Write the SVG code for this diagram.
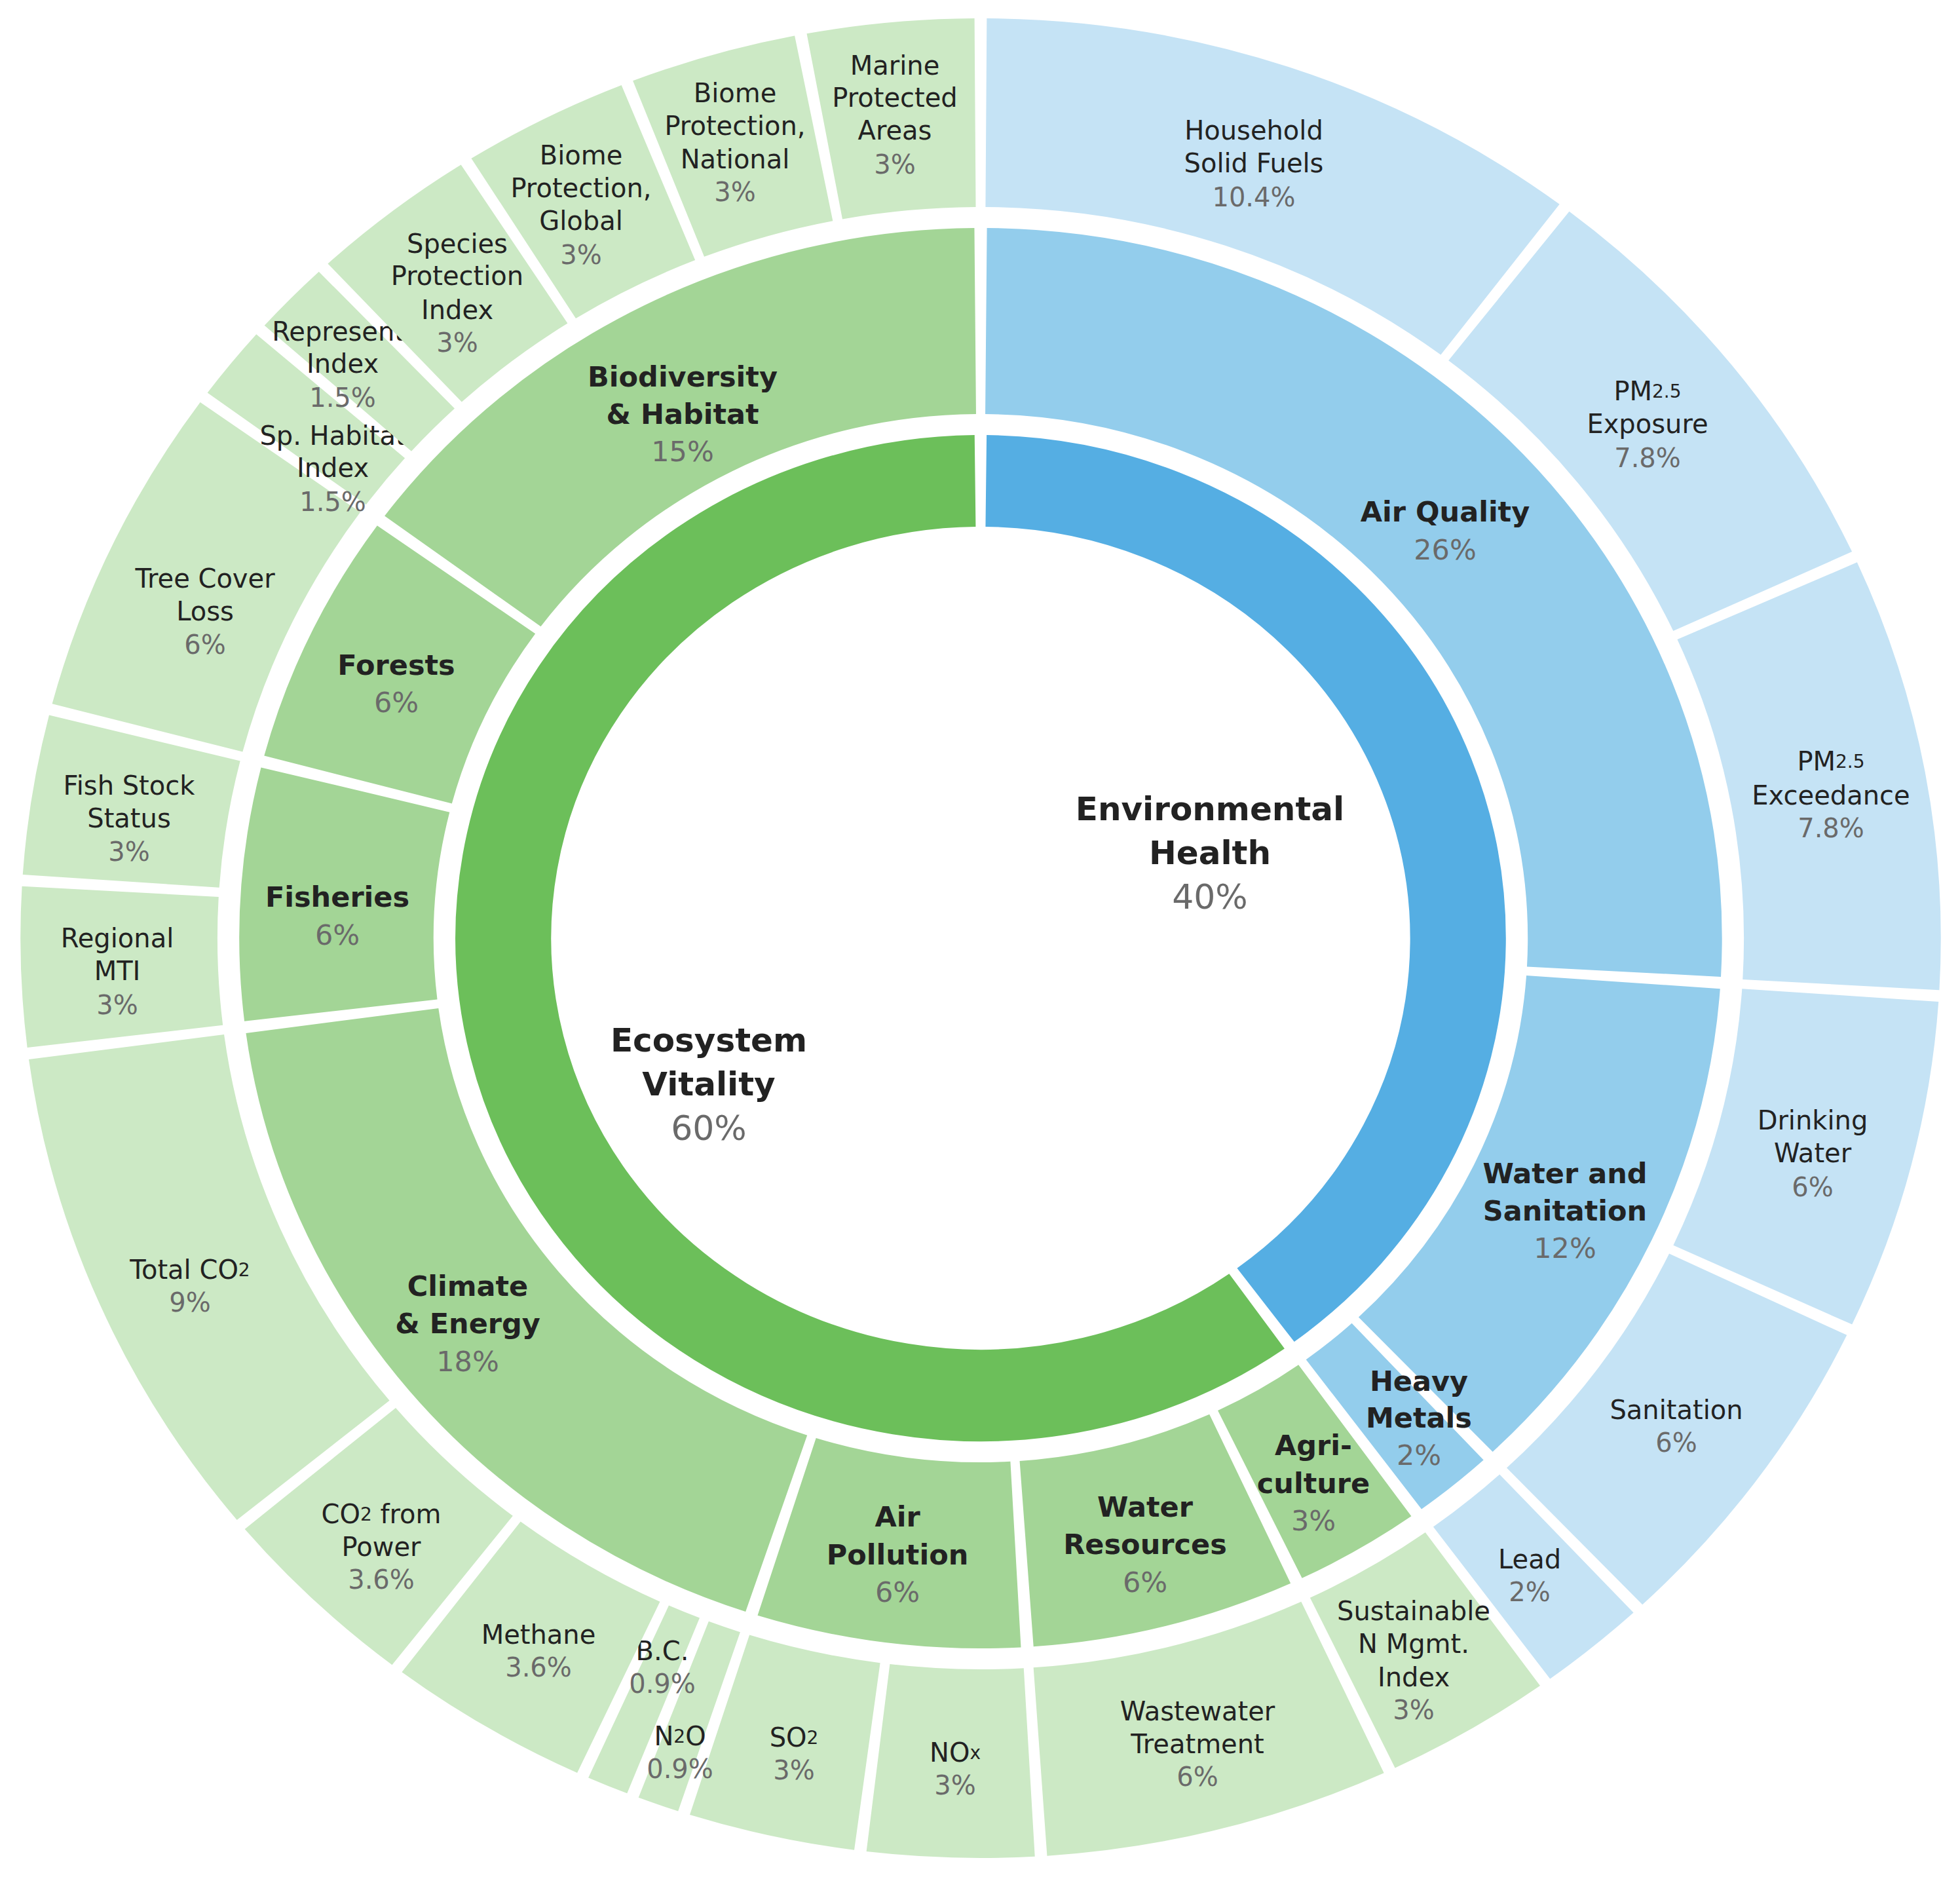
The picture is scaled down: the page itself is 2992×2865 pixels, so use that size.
<svg xmlns="http://www.w3.org/2000/svg" width="2992" height="2865" viewBox="0 0 2992 2865">
<style>
circle{fill:none}
.r1{stroke-width:140}
.r2{stroke-width:284}
.r3{stroke-width:288}
.b1{stroke:#55aee3}.g1{stroke:#6cbf5a}
.b2{stroke:#93cdec}.g2{stroke:#a3d596}
.b3{stroke:#c5e3f5}.g3{stroke:#cce9c5}
text{font-family:"DejaVu Sans","Liberation Sans",sans-serif;text-anchor:middle;dominant-baseline:central;fill:#222}
.l{font-size:40px}
.c{font-size:43px;font-weight:bold}
.m{font-size:50px;font-weight:bold}
.p{fill:#6a6a6a;font-weight:normal}
.m .p{font-size:52px}
.s{font-size:28px}
</style>
<rect width="2992" height="2865" fill="#fff"/>
<g id="ring1">
<g id="env-health"><circle class="r1 b1" r="698" pathLength="360" stroke-dasharray="142.69 400" transform="translate(1497,1432) scale(1.044,1) rotate(-89.35)"/>
<text class="m"><tspan x="1847" y="1235">Environmental</tspan><tspan x="1847" y="1302">Health</tspan><tspan class="p" x="1847" y="1369">40%</tspan></text></g>
<g id="eco-vitality"><circle class="r1 g1" r="698" pathLength="360" stroke-dasharray="214.69 400" transform="translate(1497,1432) scale(1.044,1) rotate(54.65)"/>
<text class="m"><tspan x="1082" y="1588">Ecosystem</tspan><tspan x="1082" y="1655">Vitality</tspan><tspan class="p" x="1082" y="1722">60%</tspan></text></g>
</g>
<g id="ring2">
<g id="air-quality"><circle class="r2 b2" r="942" pathLength="360" stroke-dasharray="92.63 400" transform="translate(1497,1432) scale(1.044,1) rotate(-89.515)"/>
<text class="c"><tspan x="2206" y="781">Air Quality</tspan><tspan class="p" x="2206" y="839">26%</tspan></text></g>
<g id="water-sanitation"><circle class="r2 b2" r="942" pathLength="360" stroke-dasharray="42.23 400" transform="translate(1497,1432) scale(1.044,1) rotate(4.085)"/>
<text class="c"><tspan x="2389" y="1791">Water and</tspan><tspan x="2389" y="1848">Sanitation</tspan><tspan class="p" x="2389" y="1905">12%</tspan></text></g>
<g id="heavy-metals"><circle class="r2 b2" r="942" pathLength="360" stroke-dasharray="6.23 400" transform="translate(1497,1432) scale(1.044,1) rotate(47.285)"/>
<text class="c"><tspan x="2166" y="2108">Heavy</tspan><tspan x="2166" y="2164">Metals</tspan><tspan class="p" x="2166" y="2221">2%</tspan></text></g>
<g id="agriculture"><circle class="r2 g2" r="942" pathLength="360" stroke-dasharray="9.83 400" transform="translate(1497,1432) scale(1.044,1) rotate(54.485)"/>
<text class="c"><tspan x="2005" y="2206">Agri-</tspan><tspan x="2005" y="2264">culture</tspan><tspan class="p" x="2005" y="2321">3%</tspan></text></g>
<g id="water-resources"><circle class="r2 g2" r="942" pathLength="360" stroke-dasharray="20.63 400" transform="translate(1497,1432) scale(1.044,1) rotate(65.285)"/>
<text class="c"><tspan x="1748" y="2300">Water</tspan><tspan x="1748" y="2357">Resources</tspan><tspan class="p" x="1748" y="2415">6%</tspan></text></g>
<g id="air-pollution"><circle class="r2 g2" r="942" pathLength="360" stroke-dasharray="20.63 400" transform="translate(1497,1432) scale(1.044,1) rotate(86.885)"/>
<text class="c"><tspan x="1370" y="2315">Air</tspan><tspan x="1370" y="2373">Pollution</tspan><tspan class="p" x="1370" y="2430">6%</tspan></text></g>
<g id="climate-energy"><circle class="r2 g2" r="942" pathLength="360" stroke-dasharray="63.83 400" transform="translate(1497,1432) scale(1.044,1) rotate(108.485)"/>
<text class="c"><tspan x="714" y="1963">Climate</tspan><tspan x="714" y="2020">&amp; Energy</tspan><tspan class="p" x="714" y="2078">18%</tspan></text></g>
<g id="fisheries"><circle class="r2 g2" r="942" pathLength="360" stroke-dasharray="20.63 400" transform="translate(1497,1432) scale(1.044,1) rotate(173.285)"/>
<text class="c"><tspan x="515" y="1369">Fisheries</tspan><tspan class="p" x="515" y="1427">6%</tspan></text></g>
<g id="forests"><circle class="r2 g2" r="942" pathLength="360" stroke-dasharray="20.63 400" transform="translate(1497,1432) scale(1.044,1) rotate(194.885)"/>
<text class="c"><tspan x="605" y="1015">Forests</tspan><tspan class="p" x="605" y="1072">6%</tspan></text></g>
<g id="biodiversity"><circle class="r2 g2" r="942" pathLength="360" stroke-dasharray="53.03 400" transform="translate(1497,1432) scale(1.044,1) rotate(216.485)"/>
<text class="c"><tspan x="1042" y="575">Biodiversity</tspan><tspan x="1042" y="632">&amp; Habitat</tspan><tspan class="p" x="1042" y="689">15%</tspan></text></g>
</g>
<g id="ring3">
<g id="household"><circle class="r3 b3" r="1260" pathLength="360" stroke-dasharray="36.71 400" transform="translate(1497,1432) scale(1.044,1) rotate(-89.635)"/>
<text class="l"><tspan x="1914" y="199">Household</tspan><tspan x="1914" y="249">Solid Fuels</tspan><tspan class="p" x="1914" y="301">10.4%</tspan></text></g>
<g id="pm-exposure"><circle class="r3 b3" r="1260" pathLength="360" stroke-dasharray="27.35 400" transform="translate(1497,1432) scale(1.044,1) rotate(-52.195)"/>
<text class="l"><tspan x="2515" y="597">PM<tspan class="s">2.5</tspan></tspan><tspan x="2515" y="647">Exposure</tspan><tspan class="p" x="2515" y="699">7.8%</tspan></text></g>
<g id="pm-exceedance"><circle class="r3 b3" r="1260" pathLength="360" stroke-dasharray="27.35 400" transform="translate(1497,1432) scale(1.044,1) rotate(-24.115)"/>
<text class="l"><tspan x="2795" y="1162">PM<tspan class="s">2.5</tspan></tspan><tspan x="2795" y="1214">Exceedance</tspan><tspan class="p" x="2795" y="1264">7.8%</tspan></text></g>
<g id="drinking-water"><circle class="r3 b3" r="1260" pathLength="360" stroke-dasharray="20.87 400" transform="translate(1497,1432) scale(1.044,1) rotate(3.965)"/>
<text class="l"><tspan x="2767" y="1710">Drinking</tspan><tspan x="2767" y="1760">Water</tspan><tspan class="p" x="2767" y="1812">6%</tspan></text></g>
<g id="sanitation"><circle class="r3 b3" r="1260" pathLength="360" stroke-dasharray="20.87 400" transform="translate(1497,1432) scale(1.044,1) rotate(25.565)"/>
<text class="l"><tspan x="2559" y="2152">Sanitation</tspan><tspan class="p" x="2559" y="2202">6%</tspan></text></g>
<g id="lead"><circle class="r3 b3" r="1260" pathLength="360" stroke-dasharray="6.47 400" transform="translate(1497,1432) scale(1.044,1) rotate(47.165)"/>
<text class="l"><tspan x="2335" y="2380">Lead</tspan><tspan class="p" x="2335" y="2430">2%</tspan></text></g>
<g id="sustainable-n"><circle class="r3 g3" r="1260" pathLength="360" stroke-dasharray="10.07 400" transform="translate(1497,1432) scale(1.044,1) rotate(54.365)"/>
<text class="l"><tspan x="2158" y="2459">Sustainable</tspan><tspan x="2158" y="2509">N Mgmt.</tspan><tspan x="2158" y="2560">Index</tspan><tspan class="p" x="2158" y="2610">3%</tspan></text></g>
<g id="wastewater"><circle class="r3 g3" r="1260" pathLength="360" stroke-dasharray="20.87 400" transform="translate(1497,1432) scale(1.044,1) rotate(65.165)"/>
<text class="l"><tspan x="1828" y="2612">Wastewater</tspan><tspan x="1828" y="2662">Treatment</tspan><tspan class="p" x="1828" y="2712">6%</tspan></text></g>
<g id="nox"><circle class="r3 g3" r="1260" pathLength="360" stroke-dasharray="10.07 400" transform="translate(1497,1432) scale(1.044,1) rotate(86.765)"/>
<text class="l"><tspan x="1458" y="2675">NO<tspan class="s">x</tspan></tspan><tspan class="p" x="1458" y="2725">3%</tspan></text></g>
<g id="so2"><circle class="r3 g3" r="1260" pathLength="360" stroke-dasharray="10.07 400" transform="translate(1497,1432) scale(1.044,1) rotate(97.565)"/>
<text class="l"><tspan x="1212" y="2652">SO<tspan class="s">2</tspan></tspan><tspan class="p" x="1212" y="2702">3%</tspan></text></g>
<g id="n2o"><circle class="r3 g3" r="1260" pathLength="360" stroke-dasharray="2.51 400" transform="translate(1497,1432) scale(1.044,1) rotate(108.365)"/>
<text class="l"><tspan x="1038" y="2650">N<tspan class="s">2</tspan>O</tspan><tspan class="p" x="1038" y="2700">0.9%</tspan></text></g>
<g id="bc"><circle class="r3 g3" r="1260" pathLength="360" stroke-dasharray="2.51 400" transform="translate(1497,1432) scale(1.044,1) rotate(111.605)"/>
<text class="l"><tspan x="1011" y="2520">B.C.</tspan><tspan class="p" x="1011" y="2570">0.9%</tspan></text></g>
<g id="methane"><circle class="r3 g3" r="1260" pathLength="360" stroke-dasharray="12.23 400" transform="translate(1497,1432) scale(1.044,1) rotate(114.845)"/>
<text class="l"><tspan x="822" y="2495">Methane</tspan><tspan class="p" x="822" y="2545">3.6%</tspan></text></g>
<g id="co2-power"><circle class="r3 g3" r="1260" pathLength="360" stroke-dasharray="12.23 400" transform="translate(1497,1432) scale(1.044,1) rotate(127.805)"/>
<text class="l"><tspan x="582" y="2311">CO<tspan class="s">2</tspan> from</tspan><tspan x="582" y="2361">Power</tspan><tspan class="p" x="582" y="2411">3.6%</tspan></text></g>
<g id="total-co2"><circle class="r3 g3" r="1260" pathLength="360" stroke-dasharray="31.67 400" transform="translate(1497,1432) scale(1.044,1) rotate(140.765)"/>
<text class="l"><tspan x="290" y="1938">Total CO<tspan class="s">2</tspan></tspan><tspan class="p" x="290" y="1988">9%</tspan></text></g>
<g id="regional-mti"><circle class="r3 g3" r="1260" pathLength="360" stroke-dasharray="10.07 400" transform="translate(1497,1432) scale(1.044,1) rotate(173.165)"/>
<text class="l"><tspan x="179" y="1432">Regional</tspan><tspan x="179" y="1482">MTI</tspan><tspan class="p" x="179" y="1534">3%</tspan></text></g>
<g id="fish-stock"><circle class="r3 g3" r="1260" pathLength="360" stroke-dasharray="10.07 400" transform="translate(1497,1432) scale(1.044,1) rotate(183.965)"/>
<text class="l"><tspan x="197" y="1199">Fish Stock</tspan><tspan x="197" y="1249">Status</tspan><tspan class="p" x="197" y="1300">3%</tspan></text></g>
<g id="tree-cover"><circle class="r3 g3" r="1260" pathLength="360" stroke-dasharray="20.87 400" transform="translate(1497,1432) scale(1.044,1) rotate(194.765)"/>
<text class="l"><tspan x="313" y="883">Tree Cover</tspan><tspan x="313" y="933">Loss</tspan><tspan class="p" x="313" y="984">6%</tspan></text></g>
<g id="sp-habitat"><circle class="r3 g3" r="1260" pathLength="360" stroke-dasharray="4.67 400" transform="translate(1497,1432) scale(1.044,1) rotate(216.365)"/>
<text class="l"><tspan x="508" y="665">Sp. Habitat</tspan><tspan x="508" y="714">Index</tspan><tspan class="p" x="508" y="766">1.5%</tspan></text></g>
<g id="represent"><circle class="r3 g3" r="1260" pathLength="360" stroke-dasharray="4.67 400" transform="translate(1497,1432) scale(1.044,1) rotate(221.765)"/>
<text class="l"><tspan x="523" y="506">Represent.</tspan><tspan x="523" y="555">Index</tspan><tspan class="p" x="523" y="607">1.5%</tspan></text></g>
<g id="species-protection"><circle class="r3 g3" r="1260" pathLength="360" stroke-dasharray="10.07 400" transform="translate(1497,1432) scale(1.044,1) rotate(227.165)"/>
<text class="l"><tspan x="698" y="372">Species</tspan><tspan x="698" y="421">Protection</tspan><tspan x="698" y="473">Index</tspan><tspan class="p" x="698" y="523">3%</tspan></text></g>
<g id="biome-global"><circle class="r3 g3" r="1260" pathLength="360" stroke-dasharray="10.07 400" transform="translate(1497,1432) scale(1.044,1) rotate(237.965)"/>
<text class="l"><tspan x="887" y="237">Biome</tspan><tspan x="887" y="287">Protection,</tspan><tspan x="887" y="337">Global</tspan><tspan class="p" x="887" y="389">3%</tspan></text></g>
<g id="biome-national"><circle class="r3 g3" r="1260" pathLength="360" stroke-dasharray="10.07 400" transform="translate(1497,1432) scale(1.044,1) rotate(248.765)"/>
<text class="l"><tspan x="1122" y="142">Biome</tspan><tspan x="1122" y="192">Protection,</tspan><tspan x="1122" y="243">National</tspan><tspan class="p" x="1122" y="293">3%</tspan></text></g>
<g id="marine"><circle class="r3 g3" r="1260" pathLength="360" stroke-dasharray="10.07 400" transform="translate(1497,1432) scale(1.044,1) rotate(259.565)"/>
<text class="l"><tspan x="1366" y="100">Marine</tspan><tspan x="1366" y="149">Protected</tspan><tspan x="1366" y="199">Areas</tspan><tspan class="p" x="1366" y="251">3%</tspan></text></g>
</g>
<g id="connectors"/>
</svg>
